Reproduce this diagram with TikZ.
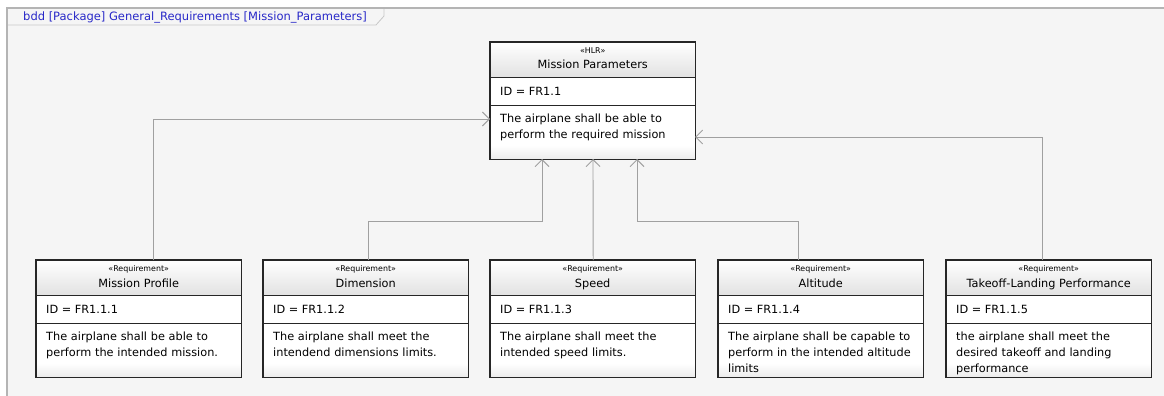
\documentclass[tikz,border=0pt]{standalone}
\usepackage{fontspec}
\setmainfont{DejaVu Sans}
\usetikzlibrary{arrows.meta,calc}
\definecolor{canvas}{HTML}{F5F5F5}
\definecolor{frameline}{HTML}{B4B4B4}
\definecolor{tabline}{HTML}{C8C8C8}
\definecolor{titleblue}{HTML}{2828C8}
\definecolor{wire}{HTML}{A0A0A0}
\definecolor{headbot}{HTML}{E2E2E2}
\tikzset{
  boxline/.style={draw=black!85, line width=1.3pt},
  rowline/.style={draw=black!85, line width=1pt},
  stereo/.style={font=\fontsize{7.9}{8}\selectfont, inner sep=0pt, anchor=base},
  reqname/.style={font=\fontsize{11.3}{13}\selectfont, inner sep=0pt, anchor=base},
  idtext/.style={font=\fontsize{11.3}{13}\selectfont, inner sep=0pt, anchor=base west},
  desc/.style={font=\fontsize{11.3}{16}\selectfont, inner sep=0pt, anchor=north west,
               text width=195pt, align=left},
  derive/.style={draw=wire, line width=0.9pt,
                 -{Straight Barb[length=7pt,width=14pt,line width=0.9pt]}},
}
% #1 name, #2 x, #3 y (top), #4 stereotype, #5 title, #6 id, #7 description
\newcommand\reqbox[7]{%
  \path node[minimum width=205pt, minimum height=117pt, inner sep=0pt,
             anchor=north west] (#1) at (#2,#3) {};
  \fill[white] (#1.north west) rectangle (#1.south east);
  \shade[top color=white, bottom color=headbot]
    (#1.north west) rectangle ($(#1.north east)+(0,35)$);
  \shade[top color=white, bottom color=headbot!70]
    ($(#1.south west)+(0,-14)$) rectangle (#1.south east);
  \draw[rowline] ($(#1.north west)+(0,35)$) -- ($(#1.north east)+(0,35)$);
  \draw[rowline] ($(#1.north west)+(0,63)$) -- ($(#1.north east)+(0,63)$);
  \node[stereo] at ($(#1.north)+(0,11.5)$) {«#4»};
  \node[reqname] at ($(#1.north)+(0,27)$) {#5};
  \node[idtext] at ($(#1.north west)+(10,53)$) {#6};
  \begin{scope}
    \clip ($(#1.north west)+(1,64)$) rectangle ($(#1.south east)+(-1,-1)$);
    \node[desc] at ($(#1.north west)+(10,71.5)$) {#7};
  \end{scope}
  \draw[boxline] (#1.north west) rectangle (#1.south east);
}
\begin{document}
\begin{tikzpicture}[x=1pt,y=-1pt]
  \useasboundingbox (0,0) rectangle (1164,396);
  \fill[white] (0,0) rectangle (1164,396);
  \fill[canvas] (7,8) rectangle (1164,396);
  % diagram frame and its name tab
  \draw[tabline, line width=0.8pt] (7,25) -- (376,25) -- (384,16) -- (384,8);
  \draw[frameline, line width=1.4pt] (1164,8) -- (7,8) -- (7,396);
  \node[anchor=base west, inner sep=0pt, text=titleblue,
        font=\fontsize{11.5}{13}\selectfont] (title) at (23,21)
    {bdd [Package] General\_Requirements [Mission\_Parameters]};

  \reqbox{hlr}{490}{42}{HLR}{Mission Parameters}{ID = FR1.1}
    {The airplane shall be able to\\perform the required mission}
  \reqbox{mp}{36}{260}{Requirement}{Mission Profile}{ID = FR1.1.1}
    {The airplane shall be able to\\perform the intended mission.}
  \reqbox{dim}{263}{260}{Requirement}{Dimension}{ID = FR1.1.2}
    {The airplane shall meet the\\intendend dimensions limits.}
  \reqbox{spd}{490}{260}{Requirement}{Speed}{ID = FR1.1.3}
    {The airplane shall meet the\\intended speed limits.}
  \reqbox{alt}{718}{260}{Requirement}{Altitude}{ID = FR1.1.4}
    {The airplane shall be capable to\\perform in the intended altitude\\limits}
  \reqbox{tlp}{946}{260}{Requirement}{Takeoff-Landing Performance}{ID = FR1.1.5}
    {the airplane shall meet the\\desired takeoff and landing\\performance}

  % ends of the derivation links on the parent requirement
  \coordinate (inL) at (490,119);
  \coordinate (inR) at (695,137);
  \coordinate (inB1) at (542,159);
  \coordinate (inB2) at (593,159);
  \coordinate (inB3) at (637,159);

  \draw[derive] ($(mp.north)+(14.5,0)$) |- (inL);
  \draw[derive] ($(dim.north)+(2.5,0)$) -- ++(0,-39) -| (inB1);
  \draw[derive] ($(spd.north)+(0.5,0)$) -- (inB2);
  \draw[derive] ($(alt.north)+(-22.5,0)$) -- ++(0,-39) -| (inB3);
  \draw[derive] ($(tlp.north)+(-6.5,0)$) |- (inR);
\end{tikzpicture}
\end{document}
